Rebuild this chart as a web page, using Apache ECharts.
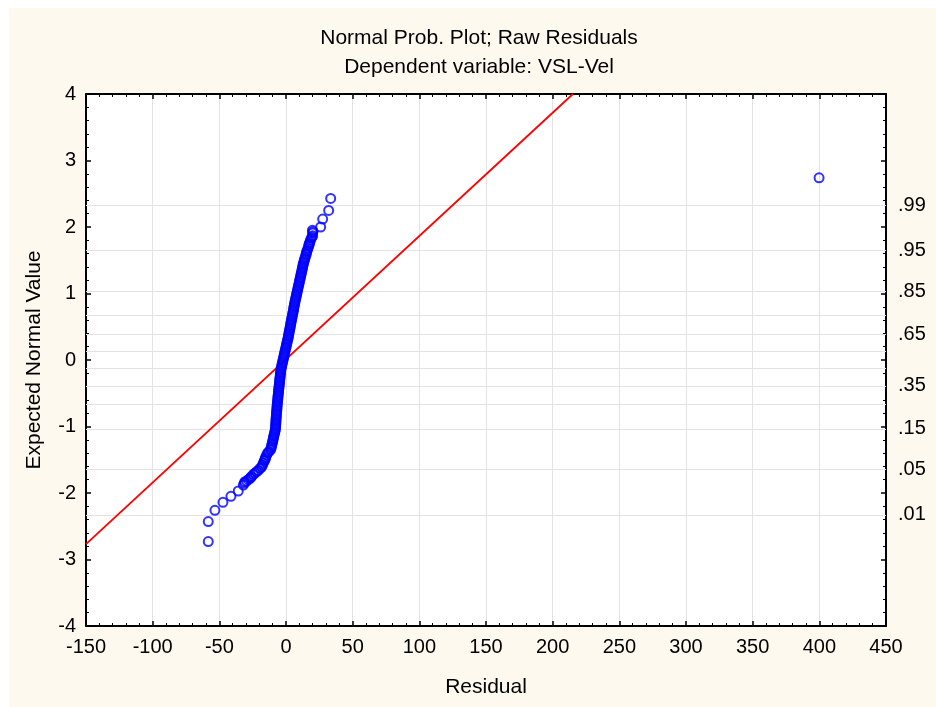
<!DOCTYPE html>
<html>
<head>
<meta charset="utf-8">
<script src="https://cdn.jsdelivr.net/npm/echarts@6/dist/echarts.min.js"></script>
<style>
html,body{margin:0;padding:0;background:#ffffff;}
#chart{width:936px;height:707px;}
</style>
</head>
<body>
<div id="chart"></div>
<script>
// Residuals (x) and expected normal values (y) (sorted by y)
const residuals = [
  // lower tail
  -58.3, -58.3, -53.3, -47.3, -41.3, -35.8, -32.0, -31.2, -30.8, -29.5,
  -28.3, -27.0, -26.5, -25.8, -24.5, -23.3, -22.0, -20.8, -19.5, -18.3,
  -17.6, -17.0, -16.3, -15.8, -15.5, -15.2, -14.5, -13.8, -13.0,
  // dense core
  -11.5, -11.2, -10.9, -10.6, -10.3, -10.0, -9.7, -9.5, -9.2, -8.9,
  -8.6, -8.3, -8.0, -7.9, -7.8, -7.7, -7.6, -7.55, -7.5, -7.4,
  -7.3, -7.2, -7.1, -7.0, -6.9, -6.8, -6.7, -6.6, -6.5, -6.35,
  -6.2, -6.1, -6.0, -5.85, -5.7, -5.6, -5.5, -5.35, -5.2, -5.05,
  -4.9, -4.8, -4.7, -4.55, -4.4, -4.25, -4.1, -4.0, -3.9, -3.6,
  -3.3, -3.05, -2.8, -2.5, -2.2, -1.9, -1.6, -1.35, -1.1, -0.8,
  -0.5, -0.2, 0.1, 0.35, 0.6, 0.9, 1.2, 1.5, 1.8, 2.0,
  2.2, 2.45, 2.7, 2.95, 3.2, 3.4, 3.6, 3.85, 4.1, 4.35,
  4.6, 4.85, 5.1, 5.35, 5.6, 5.8, 6.0, 6.25, 6.5, 6.75,
  7.0, 7.3, 7.6, 7.85, 8.1, 8.4, 8.7, 8.95, 9.2, 9.5,
  9.8, 10.05, 10.3, 10.6, 10.9, 11.15, 11.4, 11.7, 12.0, 12.25,
  12.5, 12.75, 13.0,
  // upper tail
  13.4, 13.8, 14.1, 14.5, 15.0, 15.2, 15.5, 16.0, 16.5, 17.0,
  17.2, 17.5, 17.9, 18.3, 19.0, 19.5, 20.0, 20.0, 20.2, 19.8,
  26.0, 27.5, 32.0, 33.5, 399.8
];
const expectedNormal = [
  // lower tail
  -2.73, -2.43, -2.26, -2.14, -2.05, -1.97, -1.88, -1.85, -1.83, -1.82,
  -1.80, -1.78, -1.77, -1.75, -1.72, -1.70, -1.68, -1.66, -1.63, -1.61,
  -1.58, -1.55, -1.52, -1.50, -1.48, -1.46, -1.43, -1.40, -1.38,
  // dense core
  -1.350, -1.325, -1.300, -1.275, -1.250, -1.225, -1.200, -1.175, -1.150, -1.125,
  -1.100, -1.075, -1.050, -1.025, -1.000, -0.975, -0.950, -0.925, -0.900, -0.875,
  -0.850, -0.825, -0.800, -0.775, -0.750, -0.725, -0.700, -0.675, -0.650, -0.625,
  -0.600, -0.575, -0.550, -0.525, -0.500, -0.475, -0.450, -0.425, -0.400, -0.375,
  -0.350, -0.325, -0.300, -0.275, -0.250, -0.225, -0.200, -0.175, -0.150, -0.125,
  -0.100, -0.075, -0.050, -0.025, 0.000, 0.025, 0.050, 0.075, 0.100, 0.125,
  0.150, 0.175, 0.200, 0.225, 0.250, 0.275, 0.300, 0.325, 0.350, 0.375,
  0.400, 0.425, 0.450, 0.475, 0.500, 0.525, 0.550, 0.575, 0.600, 0.625,
  0.650, 0.675, 0.700, 0.725, 0.750, 0.775, 0.800, 0.825, 0.850, 0.875,
  0.900, 0.925, 0.950, 0.975, 1.000, 1.025, 1.050, 1.075, 1.100, 1.125,
  1.150, 1.175, 1.200, 1.225, 1.250, 1.275, 1.300, 1.325, 1.350, 1.375,
  1.400, 1.425, 1.450,
  // upper tail
  1.475, 1.50, 1.525, 1.55, 1.58, 1.60, 1.63, 1.65, 1.68, 1.71,
  1.73, 1.75, 1.77, 1.80, 1.83, 1.85, 1.87, 1.91, 1.93, 1.95,
  2.00, 2.12, 2.25, 2.43, 2.74
];
// Fitted reference line endpoints
const fitLineX = [-150, 215.2];
const fitLineY = [-2.77, 4.0];
// Probability grid (right axis)
const probGridZ = [-2.326, -1.645, -1.036, -0.674, -0.385, -0.126, 0.126, 0.385, 0.674, 1.036, 1.645, 2.326];
const probLabelZ = [-2.326, -1.645, -1.036, -0.385, 0.385, 1.036, 1.645, 2.326];
const probLabels = ['.01', '.05', '.15', '.35', '.65', '.85', '.95', '.99'];

const FONT = 'Liberation Sans, Arial, sans-serif';
const FS = 20;
const FT = 21;

const points = residuals.map((r, i) => [r, expectedNormal[i]]);
const fitLine = fitLineX.map((x, i) => [x, fitLineY[i]]);

const chart = echarts.init(document.getElementById('chart'), null, {renderer: 'canvas'});

const axisLineStyle = {show: true, onZero: false, lineStyle: {color: '#000', width: 2}};
const tickStyle = {show: true, inside: true, length: 5, lineStyle: {color: '#000', width: 1.5}};
const minorStyle = {show: true, splitNumber: 5, length: 3, lineStyle: {color: '#000', width: 1}};

chart.setOption({
  backgroundColor: '#ffffff',
  animation: false,
  textStyle: {fontFamily: FONT},
  graphic: [{
    type: 'rect', z: -10, silent: true,
    shape: {x: 9, y: 8, width: 936 - 9, height: 707 - 8},
    style: {fill: '#fdf9ef'}
  }],
  title: [
    {text: 'Normal Prob. Plot; Raw Residuals', left: 474, top: 23, textAlign: 'center',
     textStyle: {fontFamily: FONT, fontSize: FT, fontWeight: 'normal', color: '#000'}},
    {text: 'Dependent variable: VSL-Vel', left: 474, top: 52, textAlign: 'center',
     textStyle: {fontFamily: FONT, fontSize: FT, fontWeight: 'normal', color: '#000'}}
  ],
  grid: {left: 86, right: 50, top: 94, bottom: 81, show: true, backgroundColor: '#ffffff', borderWidth: 0},
  xAxis: [
    {type: 'value', min: -150, max: 450, interval: 50, position: 'bottom',
     name: 'Residual', nameLocation: 'middle', nameGap: 51,
     nameTextStyle: {fontFamily: FONT, fontSize: FT, color: '#000'},
     axisLine: axisLineStyle, axisTick: tickStyle, minorTick: minorStyle,
     axisLabel: {color: '#000', fontFamily: FONT, fontSize: FS, margin: 11},
     splitLine: {show: true, lineStyle: {color: '#e3e3e3', width: 1}}},
    {type: 'value', min: -150, max: 450, interval: 50, position: 'top',
     axisLine: axisLineStyle, axisTick: tickStyle, minorTick: minorStyle,
     axisLabel: {show: false}, splitLine: {show: false}}
  ],
  yAxis: [
    {type: 'value', min: -4, max: 4, interval: 1, position: 'left',
     name: 'Expected Normal Value', nameLocation: 'middle', nameGap: 41,
     nameTextStyle: {fontFamily: FONT, fontSize: FT, color: '#000'},
     axisLine: axisLineStyle, axisTick: tickStyle, minorTick: minorStyle,
     axisLabel: {color: '#000', fontFamily: FONT, fontSize: FS, margin: 10},
     splitLine: {show: false}},
    {type: 'value', min: -4, max: 4, interval: 1, position: 'right',
     axisLine: axisLineStyle, axisTick: tickStyle, minorTick: minorStyle,
     axisLabel: {show: false}, splitLine: {show: false}},
    {type: 'value', min: -4, max: 4, position: 'right',
     axisLine: {show: false}, axisTick: {show: false}, splitLine: {show: false},
     axisLabel: {show: true, customValues: probLabelZ, color: '#000', fontFamily: FONT, fontSize: FS, margin: 12,
       formatter: function (v) {
         const i = probLabelZ.findIndex(z => Math.abs(z - v) < 1e-6);
         return i >= 0 ? probLabels[i] : '';
       }}}
  ],
  series: [
    {type: 'line', data: [], silent: true, z: 1,
     markLine: {silent: true, z: 1, symbol: ['none', 'none'], animation: false,
       label: {show: false},
       lineStyle: {color: '#e3e3e3', width: 1, type: 'solid'},
       emphasis: {disabled: true},
       data: probGridZ.map(z => ({yAxis: z}))}},
    {type: 'line', data: fitLine, symbol: 'none', z: 3, silent: true,
     lineStyle: {color: '#ff0000', width: 1.8}},
    {type: 'scatter', data: points, symbol: 'circle', symbolSize: 9, z: 4, silent: true,
     itemStyle: {color: 'rgba(0,0,0,0)', borderColor: '#0000ff', borderWidth: 2}}
  ]
});
</script>
</body>
</html>
